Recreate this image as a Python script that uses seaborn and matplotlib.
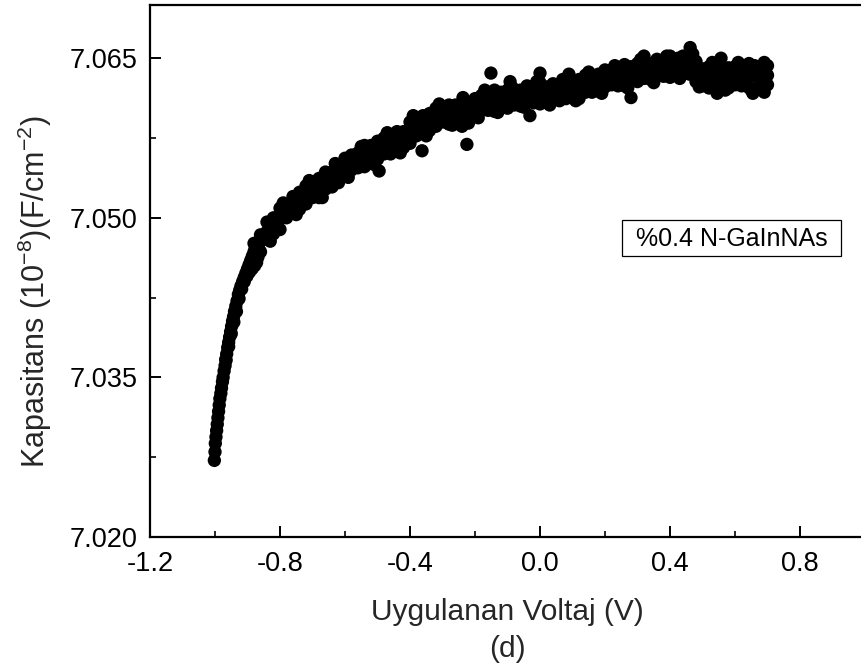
import matplotlib
matplotlib.use("Agg")
import matplotlib.pyplot as plt
from matplotlib.patches import Rectangle
from matplotlib.ticker import MultipleLocator, FormatStrFormatter
import seaborn as sns
import pandas as pd

# ---- data ----
x_steep = [-1.002, -1.000, -0.999, -0.997, -0.995, -0.993, -0.991, -0.989, -0.987, -0.985,
           -0.982, -0.980, -0.977, -0.975, -0.972, -0.969, -0.967, -0.964, -0.961, -0.958,
           -0.955, -0.952, -0.949, -0.946, -0.943, -0.940, -0.936, -0.932, -0.928, -0.924,
           -0.920, -0.915, -0.910, -0.905, -0.900, -0.895, -0.890, -0.885]
y_steep = [7.0272, 7.0280, 7.0288, 7.0294, 7.0300, 7.0306, 7.0312, 7.0318, 7.0324, 7.0330,
           7.0335, 7.0340, 7.0346, 7.0350, 7.0356, 7.0361, 7.0367, 7.0372, 7.0378, 7.0383,
           7.0388, 7.0393, 7.0398, 7.0403, 7.0407, 7.0412, 7.0417, 7.0422, 7.0428, 7.0432,
           7.0436, 7.0440, 7.0444, 7.0448, 7.0452, 7.0456, 7.0460, 7.0464]

# second row of points where the steep part widens
x_knee = [-0.966, -0.958, -0.950, -0.942, -0.934, -0.926, -0.918, -0.910, -0.902,
          -0.894, -0.886, -0.878, -0.872, -0.868, -0.864, -0.870, -0.876]
y_knee = [7.0366, 7.0379, 7.0391, 7.0402, 7.0412, 7.0424, 7.0433, 7.0440, 7.0445,
          7.0449, 7.0452, 7.0455, 7.0458, 7.0463, 7.0470, 7.0476, 7.0472]

x_band = [-0.88, -0.86, -0.84, -0.82, -0.80, -0.78, -0.76, -0.74, -0.72, -0.70,
          -0.68, -0.66, -0.64, -0.62, -0.60, -0.58, -0.56, -0.54, -0.52, -0.50,
          -0.48, -0.46, -0.44, -0.42, -0.40, -0.38, -0.36, -0.34, -0.32, -0.30,
          -0.28, -0.26, -0.24, -0.22, -0.20, -0.18, -0.16, -0.14, -0.12, -0.10,
          -0.08, -0.06, -0.04, -0.02, 0.00, 0.02, 0.04, 0.06, 0.08, 0.10,
          0.12, 0.14, 0.16, 0.18, 0.20, 0.22, 0.24, 0.26, 0.28, 0.30,
          0.32, 0.34, 0.36, 0.38, 0.40, 0.42, 0.44, 0.46, 0.48, 0.50,
          0.52, 0.54, 0.56, 0.58, 0.60, 0.62, 0.64, 0.66, 0.68, 0.70]
y_mid = [7.0468, 7.0478, 7.0487, 7.0493, 7.0499, 7.0507, 7.0512, 7.0517, 7.0521, 7.0526,
         7.0529, 7.0533, 7.0537, 7.0542, 7.0547, 7.0551, 7.0555, 7.0558, 7.0561, 7.0564,
         7.0567, 7.0569, 7.0572, 7.0574, 7.0580, 7.0584, 7.0588, 7.0591, 7.0594, 7.0597,
         7.0598, 7.0596, 7.0594, 7.0598, 7.0603, 7.0607, 7.0609, 7.0610, 7.0611, 7.0612,
         7.0613, 7.0614, 7.0615, 7.0616, 7.0617, 7.0617, 7.0618, 7.0619, 7.0620, 7.0621,
         7.0622, 7.0624, 7.0626, 7.0628, 7.0630, 7.0631, 7.0632, 7.0634, 7.0635, 7.0637,
         7.0638, 7.0639, 7.0640, 7.0641, 7.0642, 7.0643, 7.0644, 7.0644, 7.0638, 7.0632,
         7.0633, 7.0633, 7.0634, 7.0633, 7.0632, 7.0633, 7.0632, 7.0633, 7.0632, 7.0634]
y_upper = [7.0476, 7.0484, 7.0496, 7.0500, 7.0509, 7.0513, 7.0520, 7.0524, 7.0530, 7.0531,
           7.0537, 7.0543, 7.0543, 7.0549, 7.0556, 7.0559, 7.0561, 7.0568, 7.0568, 7.0572,
           7.0575, 7.0575, 7.0581, 7.0581, 7.0590, 7.0590, 7.0596, 7.0598, 7.0603, 7.0602,
           7.0606, 7.0606, 7.0600, 7.0605, 7.0612, 7.0615, 7.0615, 7.0620, 7.0618, 7.0620,
           7.0621, 7.0620, 7.0624, 7.0623, 7.0627, 7.0623, 7.0626, 7.0626, 7.0629, 7.0626,
           7.0630, 7.0634, 7.0632, 7.0635, 7.0639, 7.0639, 7.0638, 7.0644, 7.0642, 7.0645,
           7.0646, 7.0645, 7.0649, 7.0648, 7.0652, 7.0649, 7.0652, 7.0651, 7.0647, 7.0640,
           7.0642, 7.0643, 7.0641, 7.0641, 7.0642, 7.0642, 7.0640, 7.0643, 7.0641, 7.0643]
y_lower = [7.0460, 7.0468, 7.0481, 7.0485, 7.0489, 7.0500, 7.0506, 7.0508, 7.0513, 7.0519,
           7.0519, 7.0527, 7.0529, 7.0533, 7.0540, 7.0545, 7.0547, 7.0548, 7.0554, 7.0555,
           7.0560, 7.0560, 7.0566, 7.0566, 7.0570, 7.0577, 7.0582, 7.0582, 7.0586, 7.0590,
           7.0588, 7.0590, 7.0586, 7.0589, 7.0596, 7.0601, 7.0601, 7.0600, 7.0604, 7.0603,
           7.0606, 7.0605, 7.0609, 7.0608, 7.0607, 7.0610, 7.0612, 7.0610, 7.0612, 7.0614,
           7.0612, 7.0618, 7.0618, 7.0619, 7.0623, 7.0625, 7.0624, 7.0624, 7.0628, 7.0628,
           7.0631, 7.0630, 7.0634, 7.0633, 7.0632, 7.0636, 7.0638, 7.0635, 7.0628, 7.0624,
           7.0622, 7.0625, 7.0624, 7.0622, 7.0625, 7.0624, 7.0623, 7.0621, 7.0624, 7.0625]

# scattered points along the upper and lower edges of the band
x_edge = [-0.83, -0.79, -0.75, -0.71, -0.67, -0.63, -0.59, -0.55, -0.51, -0.47,
          -0.43, -0.39, -0.35, -0.31, -0.27, -0.23, -0.19, -0.17, -0.13, -0.09,
          -0.05, -0.01, 0.03, 0.07, 0.11, 0.15, 0.19, 0.23, 0.27, 0.31,
          0.35, 0.39, 0.43, 0.47, 0.49, 0.53, 0.57, 0.61, 0.65, 0.69]
y_edge = [7.0478, 7.0514, 7.0503, 7.0535, 7.0519, 7.0551, 7.0538, 7.0567, 7.0550, 7.0580,
          7.0561, 7.0596, 7.0577, 7.0607, 7.0587, 7.0609, 7.0594, 7.0620, 7.0599, 7.0624,
          7.0604, 7.0628, 7.0606, 7.0630, 7.0610, 7.0637, 7.0617, 7.0643, 7.0622, 7.0649,
          7.0627, 7.0652, 7.0631, 7.0654, 7.0623, 7.0646, 7.0620, 7.0646, 7.0620, 7.0646]

x_out = [-0.495, -0.363, -0.237, -0.225, -0.151, -0.092, -0.031, 0.000, 0.089,
         0.280, 0.320, 0.425, 0.462, 0.545, 0.557, 0.643, 0.655, 0.690]
y_out = [7.0544, 7.0563, 7.0613, 7.0569, 7.0636, 7.0628, 7.0596, 7.0636, 7.0635,
         7.0613, 7.0652, 7.0650, 7.0660, 7.0617, 7.0650, 7.0645, 7.0617, 7.0618]

legend_label = "%0.4 N-GaInNAs"
x_label = "Uygulanan Voltaj (V)\n(d)"
y_label = r"Kapasitans (10$^{-8}$)(F/cm$^{-2}$)"

df = pd.DataFrame({
    "V": x_steep + x_knee + x_band * 3 + x_edge + x_out,
    "C": y_steep + y_knee + y_mid + y_upper + y_lower + y_edge + y_out,
})

# ---- style ----
sns.set_style("ticks")
plt.rcParams["font.family"] = ["Liberation Sans", "DejaVu Sans"]
plt.rcParams["mathtext.fontset"] = "custom"
plt.rcParams["mathtext.rm"] = "Liberation Sans"
plt.rcParams["mathtext.it"] = "Liberation Sans:italic"
plt.rcParams["mathtext.bf"] = "Liberation Sans:bold"

fig = plt.figure(figsize=(8.61, 6.68), dpi=100)
W, H = 861.0, 668.0
ax = fig.add_axes([150 / W, (H - 537) / H, 715 / W, 532 / H])

sns.scatterplot(data=df, x="V", y="C", ax=ax, color="black", s=92,
                linewidth=0, edgecolor="none", legend=False)

ax.set_xlim(-1.2, 1.0)
ax.set_ylim(7.020, 7.070)
ax.xaxis.set_major_locator(MultipleLocator(0.4))
ax.xaxis.set_minor_locator(MultipleLocator(0.2))
ax.yaxis.set_major_locator(MultipleLocator(0.015))
ax.yaxis.set_minor_locator(MultipleLocator(0.0075))
ax.xaxis.set_major_formatter(FormatStrFormatter("%.1f"))
ax.yaxis.set_major_formatter(FormatStrFormatter("%.3f"))

for side in ["left", "bottom", "top"]:
    ax.spines[side].set_linewidth(1.6)
    ax.spines[side].set_color("black")
ax.spines["right"].set_visible(False)

ax.tick_params(which="major", direction="in", length=8, width=1.4,
               labelsize=19.5, colors="black", pad=9)
ax.tick_params(which="minor", direction="in", length=4.5, width=1.4)
ax.tick_params(axis="x", which="major", pad=10)

ax.set_xlabel(x_label, fontsize=21.5, labelpad=15, linespacing=1.4)
ax.set_ylabel(y_label, fontsize=22)
ax.yaxis.set_label_coords((54 - 150) / 715, (537 - 291.5) / 532)

# annotation box
fig.patches.append(Rectangle((622 / W, 1 - 256 / H), (841 - 622) / W, 36 / H,
                             transform=fig.transFigure, fill=False,
                             edgecolor="black", linewidth=0.9))
fig.text(731.5 / W, 1 - 238.5 / H, legend_label, ha="center", va="center",
         fontsize=18, color="black")

fig.savefig("out.png", dpi=100)
